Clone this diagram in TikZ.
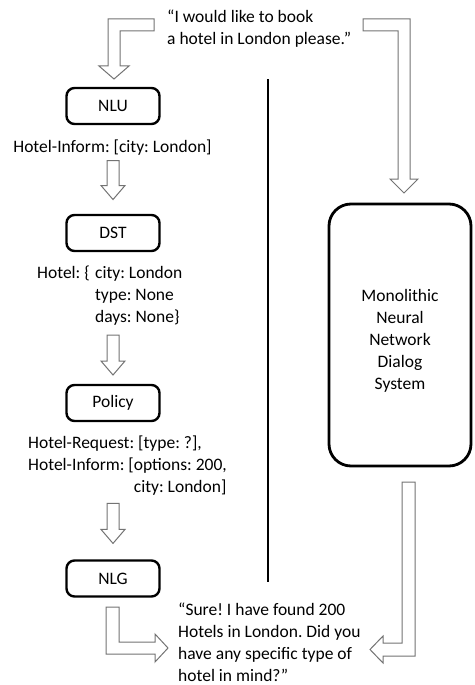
\documentclass[tikz,border=0pt]{standalone}
\usepackage{fontspec}
\setmainfont{Carlito}
\usepackage{tikz}
\usetikzlibrary{positioning, calc}

\frenchspacing
\newcommand{\dlgfont}{\fontsize{17.5}{22}\selectfont}

\tikzset{
  stage/.style={draw, line width=2.4pt, rounded corners=8pt, minimum width=93pt, minimum height=36pt},
  mono/.style={draw, line width=2.8pt, rounded corners=22pt, minimum width=142pt, minimum height=262pt},
  info/.style={inner sep=0pt},
  blockline/.style={draw=black!55, line width=1pt, fill=white},
  pics/downblock/.style={code={
    \draw[blockline] (-6,0) -- (6,0) -- (6,#1-14) -- (12,#1-14) -- (0,#1) -- (-12,#1-14) -- (-6,#1-14) -- cycle;
  }}
}

\begin{document}
\begin{tikzpicture}[x=1pt, y=-1pt, font=\dlgfont]
    \useasboundingbox (0,0) rectangle (474,685);

    % Utterances
    \node[info, anchor=north west] (userq) at (167,7) {\begin{tabular}{@{}l@{}}“I would like to book\\a hotel in London please.”\end{tabular}};
    \node[info, anchor=north west] (reply) at (178,600) {\begin{tabular}{@{}l@{}}“Sure! I have found 200\\Hotels in London. Did you\\have any specific type of\\hotel in mind?”\end{tabular}};

    % Modular pipeline
    \node[stage] (nlu) at (113,106) {NLU};
    \node[info, anchor=base] (nluinfo) at (112.5,152.5) {Hotel-Inform: [city: London]};

    \node[stage] (dst) at (113,233) {DST};
    \node[info, anchor=north west] (dstinfo) at (37,262.6) {\begin{tabular}{@{}l@{}l@{}}Hotel: \{\hspace{0.3em} & city: London\\ & type: None\\ & days: None\}\end{tabular}};

    \node[stage] (policy) at (113,403) {Policy};
    \node[info, anchor=north west] (policyinfo) at (28,433) {\begin{tabular}{@{}l@{}l@{}}\multicolumn{2}{@{}l@{}}{Hotel-Request: [type: ?],}\\Hotel-Inform: [ & options: 200,\\ & city: London]\end{tabular}};

    \node[stage] (nlg) at (113,578.5) {NLG};

    % Single network
    \node[mono] (nnds) at (400,335) {};
    \node[info] (nndslabel) at ($(nnds.center)+(0,6)$) {\begin{tabular}{@{}c@{}}Monolithic\\Neural\\Network\\Dialog\\System\end{tabular}};

    % Divider
    \draw[line width=2.6pt] (268,79) -- (268,582);

    % Arrows between the stages
    \pic at ($(nlu.south |- nluinfo.south)+(0,5)$) {downblock=39};
    \pic at ($(dst.south |- dstinfo.south)+(0,6)$) {downblock=40};
    \pic at ($(policy.south |- policyinfo.south)+(0,4)$) {downblock=40};

    % Bent arrows
    \draw[blockline] (154,19) -- (108,19) -- (108,66) -- (99,66) -- (114,79) -- (129,66) -- (120,66) -- (120,31) -- (154,31) -- cycle;
    \draw[blockline] (363,19) -- (410,19) -- (410,179) -- (418,179) -- (404,193) -- (390,179) -- (398,179) -- (398,31) -- (363,31) -- cycle;
    \draw[blockline] (106,607) -- (119,607) -- (119,642) -- (155,642) -- (155,634) -- (168,648) -- (155,662) -- (155,654) -- (106,654) -- cycle;
    \draw[blockline] (402,482) -- (415,482) -- (415,656) -- (383,656) -- (383,663) -- (370,649.5) -- (383,636) -- (383,643) -- (402,643) -- cycle;
\end{tikzpicture}
\end{document}
